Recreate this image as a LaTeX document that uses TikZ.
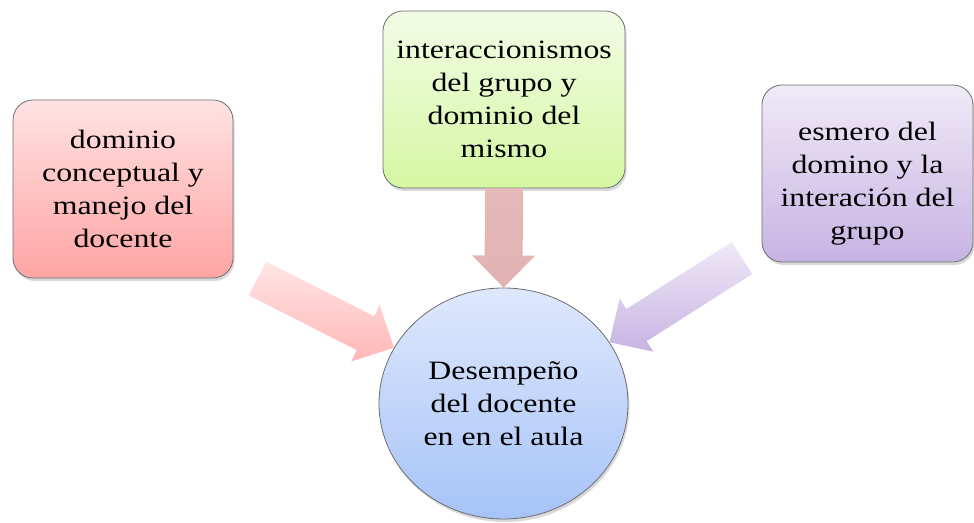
\documentclass[tikz,border=0pt]{standalone}
\usepackage{fontspec}
\setmainfont[FakeStretch=1.2]{Liberation Serif}
\usetikzlibrary{shapes, shadows, calc}

\definecolor{redtop}{HTML}{FFE2E2}
\definecolor{redbot}{HTML}{FFA4A4}
\definecolor{greentop}{HTML}{F2FCE6}
\definecolor{greenbot}{HTML}{D5F7A2}
\definecolor{violettop}{HTML}{F0EAF7}
\definecolor{violetbot}{HTML}{C7B3E3}
\definecolor{bluetop}{HTML}{DEE8FC}
\definecolor{bluebot}{HTML}{A6C3F8}
\definecolor{pinktop}{HTML}{E6BABA}
\definecolor{pinkbot}{HTML}{E1B1B1}
\definecolor{edgegray}{HTML}{6E6E6E}

% block arrow from #2 to #3, look given by #1
\newcommand{\blockarrow}[3]{%
  \coordinate (headbase) at ($#3!32pt!#2$);
  \path[#1] ($#2!19pt!90:#3$) -- ($(headbase)!19pt!90:#3$)
    -- ($(headbase)!31.5pt!90:#3$) -- #3
    -- ($(headbase)!31.5pt!-90:#3$) -- ($(headbase)!19pt!-90:#3$)
    -- ($#2!19pt!-90:#3$) -- cycle;
}

\begin{document}
\begin{tikzpicture}[x=1pt, y=1pt]

\tikzstyle{box}=[rectangle, rounded corners=20pt, draw=edgegray, line width=0.8pt, align=center,
  font=\fontsize{26.5}{33}\selectfont, drop shadow={opacity=0.3, shadow xshift=1.5pt, shadow yshift=-3pt}]
\tikzstyle{boxtext}=[align=center, font=\fontsize{26.5}{33}\selectfont]
\tikzstyle{goal}=[ellipse, draw=edgegray, line width=0.8pt, align=center, top color=bluetop, bottom color=bluebot,
  font=\fontsize{26.5}{33}\selectfont, minimum width=249pt, minimum height=231pt, inner sep=0pt,
  drop shadow={opacity=0.3, shadow xshift=1.5pt, shadow yshift=-3pt}]

\tikzstyle{redarrow}=[top color=redtop!90!white, bottom color=redbot!80!white]
\tikzstyle{pinkarrow}=[top color=pinktop, bottom color=pinkbot]
\tikzstyle{violetarrow}=[top color=violettop, bottom color=violetbot]

\useasboundingbox (0,0) rectangle (974,522);

\node[box, top color=redtop, bottom color=redbot, minimum width=220pt, minimum height=178pt] (dominio) at (123,333)
  {dominio\\conceptual y\\manejo del\\docente};
\node[box, top color=greentop, bottom color=greenbot, minimum width=242pt, minimum height=177pt] (grupo) at (504,422.5)
  {interaccionismos\\del grupo y\\dominio del\\mismo};
\node[box, top color=violettop, bottom color=violetbot, minimum width=211pt, minimum height=177pt] (esmero) at (867.5,348.5) {};
\node[boxtext] (esmerotext) at (867.5,338.5) {esmero del\\domino y la\\interación del\\grupo};

\node[goal] (desempeno) at (503.5,118.5) {Desempeño\\del docente\\en en el aula};

\coordinate (redtail) at (257.5,243.5);
\coordinate (violettail) at (742,264);

\blockarrow{redarrow}{(redtail)}{(desempeno.153)}
\blockarrow{pinkarrow}{(grupo.south)}{(desempeno.north)}
\blockarrow{violetarrow}{(violettail)}{(desempeno.30)}

\end{tikzpicture}
\end{document}
